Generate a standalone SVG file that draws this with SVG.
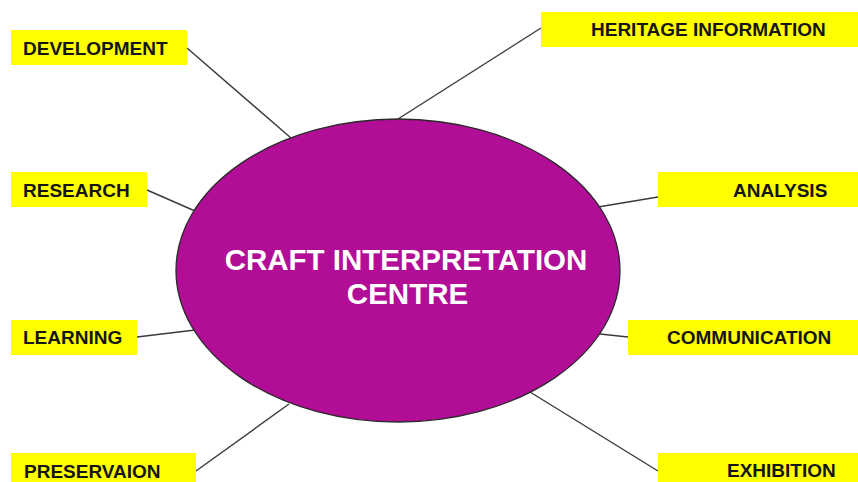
<svg xmlns="http://www.w3.org/2000/svg" width="858" height="482" viewBox="0 0 858 482">
<style>
.box{fill:#ffff00;stroke:none}
.lbl{font-family:"Liberation Sans",Arial,sans-serif;font-weight:bold;font-size:19px;fill:#151515}
.ctr{font-family:"Liberation Sans",Arial,sans-serif;font-weight:bold;font-size:29.5px;fill:#ffffff;text-anchor:middle}
.conn line{stroke:#3a3a3a;stroke-width:1.4}
</style>
<rect width="858" height="482" fill="#ffffff"/>
<g id="connectors" class="conn">
<line x1="187" y1="48" x2="291" y2="138"/>
<line x1="147" y1="190" x2="195" y2="211"/>
<line x1="137" y1="337" x2="195" y2="330"/>
<line x1="196" y1="471" x2="289" y2="404"/>
<line x1="541" y1="28" x2="398" y2="119"/>
<line x1="658" y1="197" x2="598" y2="207"/>
<line x1="628" y1="337" x2="600" y2="334"/>
<line x1="658" y1="471" x2="530" y2="392"/>
</g>
<g id="centre">
<ellipse cx="398" cy="270.5" rx="222" ry="151.5" fill="#b20d97" stroke="#2a2a2a" stroke-width="1.3"/>
<text class="ctr" x="406" y="270">CRAFT INTERPRETATION</text>
<text class="ctr" x="407.5" y="304">CENTRE</text>
</g>
<g id="development"><rect class="box" x="11" y="30" width="176" height="35"/><text class="lbl" x="23" y="55">DEVELOPMENT</text></g>
<g id="research"><rect class="box" x="11" y="172" width="136" height="35"/><text class="lbl" x="23" y="197">RESEARCH</text></g>
<g id="learning"><rect class="box" x="11" y="320" width="126" height="35"/><text class="lbl" x="23" y="344">LEARNING</text></g>
<g id="preservaion"><rect class="box" x="11" y="453" width="185" height="35"/><text class="lbl" x="24" y="477.5">PRESERVAION</text></g>
<g id="heritage"><rect class="box" x="541" y="12" width="317" height="35"/><text class="lbl" x="591" y="35.5">HERITAGE INFORMATION</text></g>
<g id="analysis"><rect class="box" x="658" y="172" width="200" height="35"/><text class="lbl" x="733" y="197">ANALYSIS</text></g>
<g id="communication"><rect class="box" x="628" y="320" width="230" height="35"/><text class="lbl" x="667" y="344">COMMUNICATION</text></g>
<g id="exhibition"><rect class="box" x="658" y="453" width="200" height="35"/><text class="lbl" x="727" y="477">EXHIBITION</text></g>
</svg>
